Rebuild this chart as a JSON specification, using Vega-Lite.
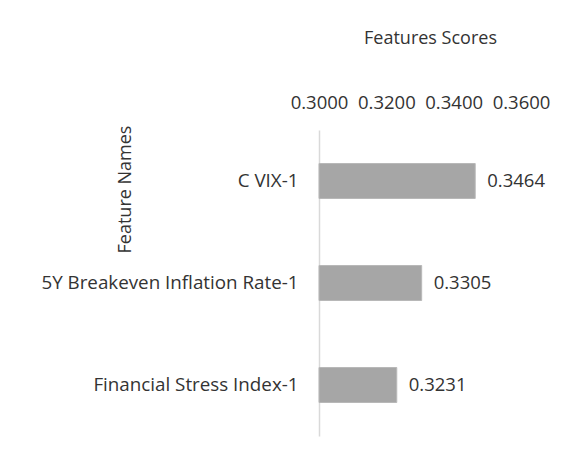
{
  "$schema": "https://vega.github.io/schema/vega-lite/v6.json",
  "autosize": {"type": "none"},
  "width": 202,
  "height": 306,
  "padding": {"left": 319, "top": 130, "right": 61, "bottom": 35},
  "background": "white",
  "config": {
    "view": {"stroke": null},
    "font": "Open Sans",
    "text": {"font": "Open Sans"}
  },
  "data": {
    "values": [
      {"feature": "C VIX-1", "score": 0.3464},
      {"feature": "5Y Breakeven Inflation Rate-1", "score": 0.3305},
      {"feature": "Financial Stress Index-1", "score": 0.3231}
    ]
  },
  "encoding": {
    "y": {
      "field": "feature",
      "type": "nominal",
      "sort": null,
      "scale": {"paddingInner": 0.657, "paddingOuter": 0.3285},
      "axis": {
        "title": "Feature Names",
        "titleFont": "Open Sans",
        "titleFontSize": 18,
        "titleFontWeight": "normal",
        "titleColor": "#333333",
        "titleX": -194,
        "titleY": 59,
        "titleAngle": -90,
        "titleAlign": "center",
        "titleBaseline": "middle",
        "labelFont": "Open Sans",
        "labelFontSize": 18.8,
        "labelColor": "#333333",
        "labelPadding": 21,
        "labelLimit": 400,
        "ticks": false,
        "tickSize": 0,
        "domainColor": "#d9d9d9",
        "domainWidth": 1.5,
        "grid": false
      }
    },
    "x": {
      "field": "score",
      "type": "quantitative",
      "scale": {"domain": [0.3, 0.36], "zero": false, "nice": false},
      "axis": {
        "orient": "top",
        "title": "Features Scores",
        "titleFont": "Open Sans",
        "titleFontSize": 18,
        "titleFontWeight": "normal",
        "titleColor": "#333333",
        "titleX": 111,
        "titleY": -92,
        "titleAlign": "center",
        "titleBaseline": "middle",
        "values": [0.3, 0.32, 0.34, 0.36],
        "format": ".4f",
        "labelFont": "Open Sans",
        "labelFontSize": 18.5,
        "labelColor": "#333333",
        "labelBaseline": "alphabetic",
        "labelPadding": 22,
        "labelFlush": false,
        "labelOverlap": false,
        "ticks": false,
        "tickSize": 0,
        "domain": false,
        "grid": false
      }
    }
  },
  "layer": [
    {
      "mark": {"type": "bar", "color": "#a6a6a6", "stroke": "#b8b8b8", "strokeWidth": 1},
      "encoding": {
        "x2": {"datum": 0.3}
      }
    },
    {
      "mark": {"type": "text", "align": "left", "baseline": "middle", "dx": 12, "fontSize": 18.5, "color": "#333333", "font": "Open Sans"},
      "encoding": {
        "text": {"field": "score", "type": "quantitative", "format": ".4f"}
      }
    }
  ]
}
